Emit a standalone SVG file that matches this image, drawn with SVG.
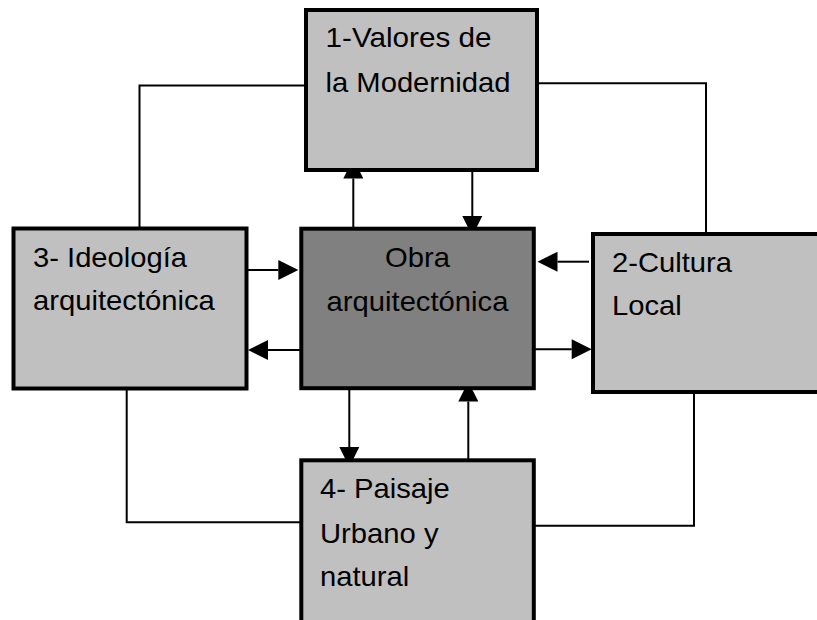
<svg xmlns="http://www.w3.org/2000/svg" width="817" height="620" viewBox="0 0 817 620">
<style>
.box{fill:#c0c0c0;stroke:#000;stroke-width:4}
.main{fill:#808080;stroke:#000;stroke-width:4}
.t{font-family:"Liberation Sans",Arial,sans-serif;font-size:28.5px;fill:#000}
.ln{fill:none;stroke:#000;stroke-width:2}
.ar{fill:none;stroke:#000;stroke-width:2;marker-end:url(#head)}
</style>
<defs>
<marker id="head" markerUnits="userSpaceOnUse" markerWidth="20" markerHeight="20" refX="0" refY="10" orient="auto" overflow="visible">
<path d="M0,0 L20,10 L0,20 Z" fill="#000"/>
</marker>
</defs>
<rect width="817" height="620" fill="#fff"/>
<g id="connectors">
<path class="ln" d="M304,85.5 H139.5 V227"/>
<path class="ln" d="M537,83.2 H706 V233"/>
<path class="ln" d="M126.7,390 V522.3 H307"/>
<path class="ln" d="M694,394 V525.7 H535"/>
<path class="ar" d="M353.3,233 V178.5"/>
<path class="ar" d="M472.3,160 V216"/>
<path class="ar" d="M247,270 H278.3"/>
<path class="ar" d="M304,350 H268"/>
<path class="ar" d="M589,261.7 H557.5"/>
<path class="ar" d="M535,349.3 H571.7"/>
<path class="ar" d="M349.3,375 V447"/>
<path class="ar" d="M468.3,473 V401.5"/>
</g>
<g id="node1">
<rect class="box" x="306" y="10" width="231" height="160"/>
<text class="t" x="325.5" y="47" textLength="166" lengthAdjust="spacingAndGlyphs">1-Valores de</text>
<text class="t" x="325.5" y="92" textLength="185" lengthAdjust="spacingAndGlyphs">la Modernidad</text>
</g>
<g id="node3">
<rect class="box" x="13.5" y="228.5" width="233" height="160"/>
<text class="t" x="33" y="267" textLength="154" lengthAdjust="spacingAndGlyphs">3- Ideología</text>
<text class="t" x="33" y="310" textLength="181.8" lengthAdjust="spacingAndGlyphs">arquitectónica</text>
</g>
<g id="node0">
<rect class="main" x="301.3" y="228.7" width="232.5" height="159.5"/>
<text class="t" x="417.5" y="267" text-anchor="middle" textLength="64.9" lengthAdjust="spacingAndGlyphs">Obra</text>
<text class="t" x="417.5" y="311" text-anchor="middle" textLength="181.8" lengthAdjust="spacingAndGlyphs">arquitectónica</text>
</g>
<g id="node2">
<rect class="box" x="593" y="234" width="240" height="158"/>
<text class="t" x="612" y="272" textLength="120" lengthAdjust="spacingAndGlyphs">2-Cultura</text>
<text class="t" x="612" y="315" textLength="69.8" lengthAdjust="spacingAndGlyphs">Local</text>
</g>
<g id="node4">
<rect class="box" x="301.3" y="460.3" width="232.5" height="200"/>
<text class="t" x="320" y="498" textLength="129.8" lengthAdjust="spacingAndGlyphs">4- Paisaje</text>
<text class="t" x="320" y="543" textLength="118.5" lengthAdjust="spacingAndGlyphs">Urbano y</text>
<text class="t" x="320" y="586" textLength="89.3" lengthAdjust="spacingAndGlyphs">natural</text>
</g>
</svg>
